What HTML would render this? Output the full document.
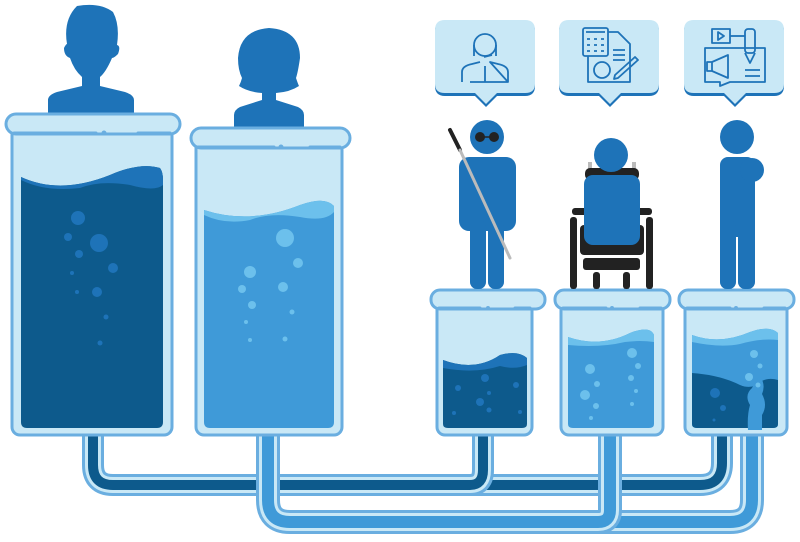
<!DOCTYPE html>
<html><head><meta charset="utf-8"><style>html,body{margin:0;padding:0;background:#fff}svg{display:block}</style></head>
<body>
<svg width="800" height="542" viewBox="0 0 800 542" xmlns="http://www.w3.org/2000/svg">
<!-- pipes -->
<g fill="none" stroke-linejoin="round">
  <path d="M93 430 V465 Q93 485 113 485 H700 Q722 485 722 463 V430" stroke="#6aaee0" stroke-width="22"/>
  <path d="M93 430 V465 Q93 485 113 485 H700 Q722 485 722 463 V430" stroke="#c9e8f6" stroke-width="16"/>
  <path d="M93 430 V465 Q93 485 113 485 H700 Q722 485 722 463 V430" stroke="#0d5a8c" stroke-width="10"/>
  <path d="M483 430 V470 Q483 485 470 485" stroke="#6aaee0" stroke-width="22"/>
  <path d="M483 430 V470 Q483 485 470 485" stroke="#c9e8f6" stroke-width="16"/>
  <path d="M483 430 V470 Q483 485 470 485" stroke="#0d5a8c" stroke-width="10"/>
  <path d="M268 430 V500 Q268 522 290 522 H730 Q752 522 752 500 V420" stroke="#6aaee0" stroke-width="24"/>
  <path d="M268 430 V500 Q268 522 290 522 H730 Q752 522 752 500 V420" stroke="#c9e8f6" stroke-width="18"/>
  <path d="M268 430 V500 Q268 522 290 522 H730 Q752 522 752 500 V420" stroke="#3f9ad8" stroke-width="12"/>
  <path d="M610 430 V510 Q610 522 598 522" stroke="#6aaee0" stroke-width="24"/>
  <path d="M610 430 V510 Q610 522 598 522" stroke="#c9e8f6" stroke-width="18"/>
  <path d="M610 430 V510 Q610 522 598 522" stroke="#3f9ad8" stroke-width="12"/>
</g>
<!-- heads -->
<g fill="#1e73b8">
  <path d="M77 6 Q100 2 113 12 Q120 25 117 45 Q121 46 118 54 Q114 58 112 58 Q106 72 100 77 V86 L125 92 Q134 95 134 100 V113 H48 V100 Q48 95 57 92 L82 86 V77 Q74 70 70 58 Q64 56 64 48 Q66 44 67 44 Q63 20 77 6Z"/>
  <path d="M269 28 Q300 30 300 58 Q298 72 296 78 Q298 84 299 86 Q290 92 276 93 V100 L298 107 Q304 110 304 115 V127 H234 V115 Q234 110 240 107 L262 100 V93 Q248 92 239 86 Q241 82 242 78 Q238 70 238 58 Q240 30 269 28Z"/>
</g>
<!-- beakers -->
<g stroke="#6aaee0" stroke-width="3">
  <rect x="12" y="125" width="160" height="310" rx="8" fill="#c9e8f6"/>
  <rect x="6" y="114" width="174" height="20" rx="10" fill="#c9e8f6"/>
  <rect x="196" y="138" width="146" height="297" rx="8" fill="#c9e8f6"/>
  <rect x="191" y="128" width="159" height="20" rx="10" fill="#c9e8f6"/>
  <rect x="437" y="298" width="95" height="137" rx="8" fill="#c9e8f6"/>
  <rect x="431" y="290" width="114" height="19" rx="9" fill="#c9e8f6"/>
  <rect x="561" y="298" width="102" height="137" rx="8" fill="#c9e8f6"/>
  <rect x="555" y="290" width="115" height="19" rx="9" fill="#c9e8f6"/>
  <rect x="685" y="298" width="102" height="137" rx="8" fill="#c9e8f6"/>
  <rect x="679" y="290" width="115" height="19" rx="9" fill="#c9e8f6"/>
</g>
<g stroke="#6aaee0" stroke-width="3" stroke-linecap="round">
  <path d="M14 133 H96 M138 133 H170 M198 147 H274 M310 147 H340 M439 308 H480 M515 308 H530 M563 308 H606 M640 308 H661 M687 308 H730 M764 308 H785"/>
</g>
<g fill="#6aaee0"><circle cx="104" cy="133" r="2.5"/><circle cx="281" cy="147" r="2.5"/><circle cx="488" cy="308" r="2"/><circle cx="612" cy="308" r="2"/><circle cx="736" cy="308" r="2"/></g>
<!-- liquids -->
<path d="M21 177 Q60 195 110 175 Q140 162 160 168 Q163 172 163 180 V422 Q163 428 157 428 H27 Q21 428 21 422Z" fill="#0d5a8c"/>
<path d="M21 177 Q60 195 110 175 Q140 162 160 168 Q163 172 163 180 V185 Q155 192 130 185 Q100 180 80 188 Q45 192 21 180Z" fill="#1e73b8"/>
<g fill="#1e73b8"><circle cx="78" cy="218" r="7"/><circle cx="68" cy="237" r="4"/><circle cx="99" cy="243" r="9"/><circle cx="79" cy="254" r="4"/><circle cx="113" cy="268" r="5"/><circle cx="72" cy="273" r="2"/><circle cx="97" cy="292" r="5"/><circle cx="77" cy="292" r="2"/><circle cx="106" cy="317" r="2.5"/><circle cx="100" cy="343" r="2.5"/></g>
<path d="M204 210 Q250 225 300 205 Q325 196 334 206 V422 Q334 428 328 428 H210 Q204 428 204 422Z" fill="#3f9ad8"/>
<path d="M204 210 Q250 225 300 205 Q325 196 334 206 V212 Q325 222 300 217 Q270 212 250 220 Q225 225 204 215Z" fill="#6cc0ec"/>
<g fill="#6cc0ec"><circle cx="285" cy="238" r="9"/><circle cx="298" cy="263" r="5"/><circle cx="250" cy="272" r="6"/><circle cx="242" cy="289" r="4"/><circle cx="283" cy="287" r="5"/><circle cx="252" cy="305" r="4"/><circle cx="292" cy="312" r="2.5"/><circle cx="246" cy="322" r="2"/><circle cx="285" cy="339" r="2.5"/><circle cx="250" cy="340" r="2"/></g>
<path d="M443 360 Q475 372 500 355 Q518 350 527 358 V424 Q527 428 522 428 H448 Q443 428 443 424Z" fill="#0d5a8c"/>
<path d="M443 360 Q475 372 500 355 Q518 350 527 358 V365 Q515 370 500 366 Q475 374 443 368Z" fill="#1e73b8"/>
<g fill="#1e73b8"><circle cx="458" cy="388" r="3"/><circle cx="485" cy="378" r="4"/><circle cx="480" cy="402" r="4"/><circle cx="516" cy="385" r="3"/><circle cx="489" cy="393" r="2"/><circle cx="489" cy="410" r="2.5"/><circle cx="454" cy="413" r="2"/><circle cx="520" cy="412" r="2"/></g>
<path d="M568 337 Q600 348 630 333 Q650 325 654 335 V424 Q654 428 649 428 H573 Q568 428 568 424Z" fill="#3f9ad8"/>
<path d="M568 337 Q600 348 630 333 Q650 325 654 335 V342 Q640 340 625 342 Q600 348 568 345Z" fill="#6cc0ec"/>
<g fill="#6cc0ec"><circle cx="632" cy="353" r="5"/><circle cx="590" cy="369" r="5"/><circle cx="638" cy="366" r="3"/><circle cx="597" cy="384" r="3"/><circle cx="631" cy="378" r="3"/><circle cx="585" cy="395" r="5"/><circle cx="596" cy="406" r="3"/><circle cx="636" cy="391" r="2"/><circle cx="632" cy="404" r="2"/><circle cx="591" cy="418" r="2"/></g>
<path d="M692 335 Q720 345 750 332 Q770 325 778 333 V424 Q778 428 773 428 H697 Q692 428 692 424Z" fill="#3f9ad8"/>
<path d="M692 335 Q720 345 750 332 Q770 325 778 333 V340 Q760 338 740 344 Q720 348 692 342Z" fill="#6cc0ec"/>
<path d="M692 373 Q720 375 740 385 Q752 390 760 382 Q768 377 778 380 V424 Q778 428 773 428 H697 Q692 428 692 424Z" fill="#0d5a8c"/>
<path d="M748 430 Q747 415 750 405 Q744 395 752 388 Q756 380 760 376 Q766 385 762 394 Q768 405 762 415 V430Z" fill="#3f9ad8"/>
<g fill="#6cc0ec"><circle cx="754" cy="354" r="4"/><circle cx="760" cy="366" r="2.5"/><circle cx="749" cy="377" r="4"/><circle cx="758" cy="385" r="2.5"/></g>
<g fill="#1e73b8"><circle cx="715" cy="393" r="5"/><circle cx="723" cy="408" r="3"/><circle cx="714" cy="420" r="1.5"/></g>
<!-- speech bubbles -->
<g>
  <path d="M445 21 H525 Q535 21 535 31 V86 Q535 96 525 96 H497 L486 107 L475 96 H445 Q435 96 435 86 V31 Q435 21 445 21Z" fill="#1e73b8"/>
  <path d="M445 20 H525 Q535 20 535 30 V84 Q535 93 525 93 H497 L486 104 L475 93 H445 Q435 93 435 84 V30 Q435 20 445 20Z" fill="#c9e8f6"/>
  <path d="M569 21 H649 Q659 21 659 31 V86 Q659 96 649 96 H621 L610 107 L599 96 H569 Q559 96 559 86 V31 Q559 21 569 21Z" fill="#1e73b8"/>
  <path d="M569 20 H649 Q659 20 659 30 V84 Q659 93 649 93 H621 L610 104 L599 93 H569 Q559 93 559 84 V30 Q559 20 569 20Z" fill="#c9e8f6"/>
  <path d="M694 21 H774 Q784 21 784 31 V86 Q784 96 774 96 H746 L735 107 L724 96 H694 Q684 96 684 86 V31 Q684 21 694 21Z" fill="#1e73b8"/>
  <path d="M694 20 H774 Q784 20 784 30 V84 Q784 93 774 93 H746 L735 104 L724 93 H694 Q684 93 684 84 V30 Q684 20 694 20Z" fill="#c9e8f6"/>
</g>
<g fill="none" stroke="#1e73b8" stroke-width="1.8" stroke-linejoin="round">
  <circle cx="485" cy="45" r="11"/><path d="M474 45 V56 M496 45 V56"/><path d="M462 82 V72 Q462 66 472 64 L480 62 M490 62 L498 64 Q508 66 508 72 V82 Z M470 82 H508 M485 66 V82"/><path d="M492 55 L484 57"/>
  <rect x="583" y="28" width="25" height="28" rx="2"/><path d="M586 32 H605 M587 39 H590 M594 39 H597 M601 39 H604 M587 45 H590 M594 45 H597 M601 45 H604 M587 51 H590 M594 51 H597 M601 51 H604"/>
  <path d="M608 32 H618 L630 44 V82 H588 V56"/><path d="M613 50 H625 M613 55 H625 M613 60 H625"/><circle cx="602" cy="70" r="8"/><path d="M615 75 L635 57 L638 60 L618 78 L614 79Z"/>
  <rect x="712" y="29" width="18" height="14"/><path d="M718 32 L724 36 L718 40Z"/><path d="M730 36 H745"/><rect x="745" y="29" width="10" height="24" rx="3"/><path d="M745 53 L750 63 L755 53"/><path d="M705 48 H765 V82 H730 L720 86 V82 H705Z"/><path d="M712 62 L728 55 V78 L712 71Z M707 62 H712 V71 H707Z"/><path d="M745 70 H760 M745 76 H760"/>
</g>
<!-- figures -->
<g fill="#1e73b8">
  <circle cx="487" cy="137" r="17"/>
  <rect x="459" y="157" width="57" height="74" rx="10"/>
  <rect x="470" y="220" width="16" height="69" rx="7"/><rect x="488" y="220" width="16" height="69" rx="7"/>
  <circle cx="737" cy="137" r="17"/>
  <rect x="720" y="157" width="35" height="80" rx="8"/><circle cx="752" cy="170" r="12"/>
  <rect x="720" y="220" width="16" height="69" rx="7"/><rect x="738" y="220" width="17" height="69" rx="7"/>
</g>
<g fill="#222"><circle cx="480" cy="137" r="5"/><circle cx="494" cy="137" r="5"/></g>
<path d="M480 137 H494" stroke="#222" stroke-width="1.5"/>
<path d="M450 130 L460 150" stroke="#222" stroke-width="4" stroke-linecap="round"/>
<path d="M460 150 L510 258" stroke="#bbb" stroke-width="3" stroke-linecap="round"/>
<!-- wheelchair -->
<g fill="#222">
  <rect x="588" y="162" width="4" height="14" fill="#bbb"/><rect x="632" y="162" width="4" height="14" fill="#bbb"/>
  <rect x="585" y="168" width="54" height="12" rx="5"/>
  <rect x="572" y="208" width="80" height="7" rx="3"/>
  <rect x="570" y="217" width="7" height="72" rx="3"/><rect x="646" y="217" width="7" height="72" rx="3"/>
  <rect x="580" y="225" width="64" height="30" rx="4"/>
  <rect x="583" y="258" width="57" height="12" rx="3"/>
  <rect x="593" y="272" width="7" height="17" rx="3"/><rect x="623" y="272" width="7" height="17" rx="3"/>
</g>
<g fill="#1e73b8"><circle cx="611" cy="155" r="17"/><rect x="584" y="175" width="56" height="70" rx="9"/></g>
</svg>
</body></html>
